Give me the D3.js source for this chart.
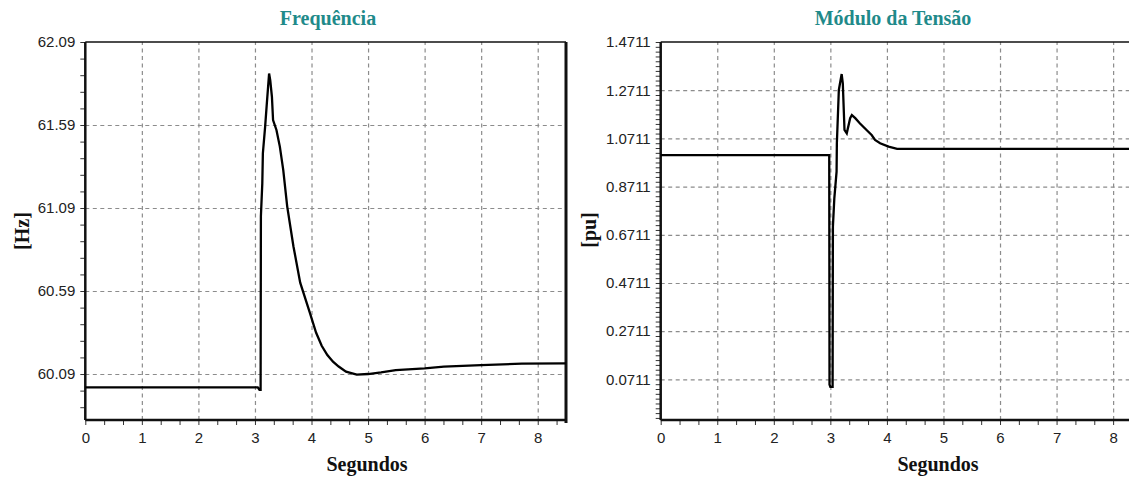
<!DOCTYPE html>
<html>
<head>
<meta charset="utf-8">
<script src="https://cdn.jsdelivr.net/npm/d3@7"></script>
<style>
  body { margin: 0; background: #fff; }
  svg { display: block; }
  .tick text { font-family: "Liberation Sans", Arial, sans-serif; font-size: 15px; fill: #222; }
  .grid line { stroke: #8c8c8c; stroke-width: 1.2; stroke-dasharray: 4,3.5; }
  .title { font-family: "Liberation Serif", "Times New Roman", serif; font-weight: bold; font-size: 20px; fill: #1f8a8a; }
  .lbl { font-family: "Liberation Serif", "Times New Roman", serif; font-weight: bold; font-size: 20px; fill: #111; }
</style>
</head>
<body>
<svg id="chart" width="1129" height="479"></svg>
<script>
// x axis (seconds)
const timeTicks = [0, 1, 2, 3, 4, 5, 6, 7, 8];

// Frequencia [Hz]
const freqTicks = [62.09, 61.59, 61.09, 60.59, 60.09];
const freqT = [0, 3.05, 3.08, 3.10, 3.105, 3.13, 3.14, 3.18, 3.21, 3.25, 3.27, 3.30, 3.32, 3.38, 3.44, 3.50, 3.57, 3.68, 3.80, 3.97, 4.08, 4.18, 4.28, 4.38, 4.48, 4.61, 4.8, 5.0, 5.23, 5.49, 6.0, 6.34, 7.0, 7.72, 8.5];
const freqV = [60.01, 60.01, 59.995, 59.995, 61.04, 61.24, 61.42, 61.58, 61.72, 61.90, 61.86, 61.76, 61.62, 61.56, 61.46, 61.32, 61.10, 60.86, 60.64, 60.46, 60.34, 60.26, 60.204, 60.164, 60.135, 60.104, 60.086, 60.09, 60.10, 60.114, 60.124, 60.134, 60.144, 60.152, 60.154];

// Modulo da Tensao [pu]
const voltTicks = [1.4711, 1.2711, 1.0711, 0.8711, 0.6711, 0.4711, 0.2711, 0.0711];
const voltT = [0, 2.98, 2.985, 3.0, 3.04, 3.045, 3.07, 3.11, 3.115, 3.15, 3.2, 3.22, 3.25, 3.29, 3.35, 3.38, 3.44, 3.52, 3.64, 3.73, 3.79, 3.88, 4.03, 4.18, 8.5];
const voltV = [1.002, 1.002, 0.05, 0.04, 0.04, 0.705, 0.822, 0.933, 1.051, 1.272, 1.338, 1.30, 1.106, 1.092, 1.155, 1.168, 1.155, 1.134, 1.106, 1.085, 1.065, 1.051, 1.037, 1.028, 1.028];

const svg = d3.select("#chart");
svg.append("rect").attr("width", 1129).attr("height", 479).attr("fill", "#fff");

function drawPanel(p) {
  const x = d3.scaleLinear().domain([0, 8.5]).range([p.left, p.left + 480.7]);
  const y = d3.scaleLinear().domain(p.yDomain).range([420, 42]);
  const g = svg.append("g");
  const [x0, x1] = x.range();
  const [yb, yt] = y.range();

  // grid
  g.append("g").attr("class", "grid")
    .attr("transform", `translate(0,${yb})`)
    .call(d3.axisBottom(x).tickValues(timeTicks.slice(1)).tickSize(-(yb - yt)).tickFormat(""))
    .call(s => s.select(".domain").remove());
  g.append("g").attr("class", "grid")
    .attr("transform", `translate(${x0},0)`)
    .call(d3.axisLeft(y).tickValues(p.ticks.slice(1)).tickSize(-(x1 - x0)).tickFormat(""))
    .call(s => s.select(".domain").remove());

  // minor ticks
  g.append("g")
    .attr("transform", `translate(${x0},0)`)
    .call(d3.axisLeft(y).tickValues(d3.range(p.yDomain[1], p.yDomain[0], -p.minor)).tickSize(5).tickFormat(""))
    .call(s => s.select(".domain").remove())
    .selectAll("line").attr("stroke", "#333");
  g.append("g")
    .attr("transform", `translate(0,${yb})`)
    .call(d3.axisBottom(x).tickValues(d3.range(0, 8.5, 1 / 3)).tickSize(5).tickFormat(""))
    .call(s => s.select(".domain").remove())
    .selectAll("line").attr("stroke", "#333");

  // tick labels
  g.append("g")
    .attr("transform", `translate(${x0},0)`)
    .call(d3.axisLeft(y).tickValues(p.ticks).tickSize(0).tickPadding(10).tickFormat(p.fmt))
    .call(s => s.select(".domain").remove());
  g.append("g")
    .attr("transform", `translate(0,${yb})`)
    .call(d3.axisBottom(x).tickValues(timeTicks).tickSize(0).tickPadding(12).tickFormat(d3.format("d")))
    .call(s => s.select(".domain").remove());

  // frame
  g.append("line").attr("x1", x0).attr("x2", x1).attr("y1", yt).attr("y2", yt).attr("stroke", "#111").attr("stroke-width", 1.5);
  g.append("line").attr("x1", x0).attr("x2", x0).attr("y1", yt).attr("y2", yb).attr("stroke", "#111").attr("stroke-width", 2.5);
  g.append("line").attr("x1", x0).attr("x2", x1).attr("y1", yb).attr("y2", yb).attr("stroke", "#111").attr("stroke-width", 2.5);
  g.append("line").attr("x1", x1).attr("x2", x1).attr("y1", yt).attr("y2", yb + 3).attr("stroke", "#111").attr("stroke-width", 3);

  // series
  const pts = p.t.map((t, i) => [t, p.v[i]]);
  g.append("path")
    .datum(pts)
    .attr("fill", "none")
    .attr("stroke", "#000")
    .attr("stroke-width", 2.3)
    .attr("stroke-linejoin", "miter")
    .attr("d", d3.line().x(d => x(d[0])).y(d => y(d[1])));

  // texts
  g.append("text").attr("class", "title").attr("x", p.titleX).attr("y", 25).attr("text-anchor", "middle").text(p.title);
  g.append("text").attr("class", "lbl").attr("x", p.xlabX).attr("y", 471).attr("text-anchor", "middle").text("Segundos");
  g.append("text").attr("class", "lbl")
    .attr("transform", `translate(${p.ylabX},${p.ylabY}) rotate(-90)`)
    .attr("text-anchor", "middle").attr("dy", "0.35em").text(p.ylab);
}

drawPanel({
  left: 85.3, yDomain: [59.813, 62.09], ticks: freqTicks, minor: 0.1, fmt: d3.format(".2f"),
  t: freqT, v: freqV, title: "Frequência", titleX: 328, xlabX: 367, ylab: "[Hz]", ylabX: 22, ylabY: 231
});
drawPanel({
  left: 660.7, yDomain: [-0.0975, 1.4711], ticks: voltTicks, minor: 0.02, fmt: d3.format(".4f"),
  t: voltT, v: voltV, title: "Módulo da Tensão", titleX: 893, xlabX: 938, ylab: "[pu]", ylabX: 589, ylabY: 230
});
</script>
</body>
</html>
